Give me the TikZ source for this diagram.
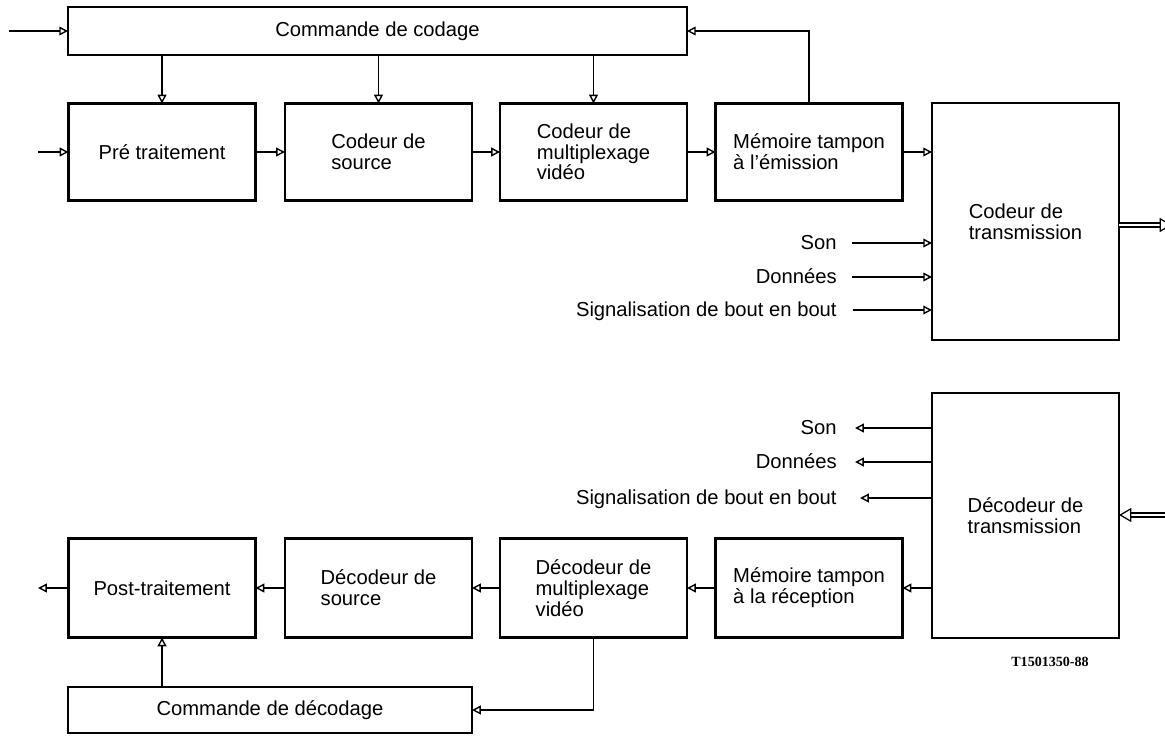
\documentclass[tikz,border=0pt]{standalone}
\usepackage{fontspec}
\setmainfont{Liberation Sans}
\newfontfamily\refont{Liberation Serif}
\usetikzlibrary{arrows.meta,positioning}

\begin{document}
\begin{tikzpicture}[x=0.02cm,y=-0.02cm,
  bloc/.style={draw,line width=1.2pt,inner sep=0pt,outer sep=0pt,align=left,
    minimum width=3.74cm,minimum height=1.94cm,font=\fontsize{11.5}{11.8}\selectfont},
  fleche/.style={line width=0.8pt,-{Triangle[open,length=5pt,width=5pt]}},
  liaison/.style={line width=0.7pt,double,double distance=1.6pt,-{Triangle[open,length=7pt,width=8pt]}},
  etiq/.style={font=\fontsize{11.5}{11.8}\selectfont,inner sep=0pt,text height=1.6ex,text depth=0.3ex,anchor=east}]

  \useasboundingbox (0,0) rectangle (1165,738);

  % codeur
  \node[bloc,minimum width=12.38cm,minimum height=0.96cm] (codage) at (377.5,31) {Commande de codage};
  \node[bloc] (pretrait) at (162,152) {Pré traitement};
  \node[bloc] (source) at (378.5,152) {Codeur de\\source};
  \node[bloc] (multiplex) at (593.5,152) {Codeur de\\multiplexage\\vidéo};
  \node[bloc] (tampon) at (809,152) {Mémoire tampon\\à l’émission};
  \node[bloc,minimum height=4.74cm] (transm) at (1025.5,221.5) {Codeur de\\transmission};

  \node[etiq] (son1) at (837,243) {Son};
  \node[etiq] (donnees1) at (837,277) {Données};
  \node[etiq] (signal1) at (837,310) {Signalisation de bout en bout};

  \coordinate (e1) at (9,31);
  \coordinate (e2) at (38,152);
  \coordinate (s1) at (1172,225);
  \coordinate (son1a) at (852,243);
  \coordinate (donnees1a) at (852,277);
  \coordinate (signal1a) at (853,310);

  \draw[fleche] (e1) -- (codage.west);
  \draw[fleche] (e2) -- (pretrait.west);
  \draw[fleche] (codage.south -| pretrait) -- (pretrait.north);
  \draw[fleche] (codage.south -| source) -- (source.north);
  \draw[fleche] (codage.south -| multiplex) -- (multiplex.north);
  \draw[fleche] (tampon.north) |- (codage.east);
  \path[fleche]
   (pretrait) edge (source)
   (source) edge (multiplex)
   (multiplex) edge (tampon)
   (tampon) edge (tampon -| transm.west);
  \draw[fleche] (son1a) -- (son1a -| transm.west);
  \draw[fleche] (donnees1a) -- (donnees1a -| transm.west);
  \draw[fleche] (signal1a) -- (signal1a -| transm.west);
  \draw[liaison] (s1 -| transm.east) -- (s1);

  % decodeur
  \node[bloc,minimum height=4.9cm] (dectrans) at (1025.5,515.5) {Décodeur de\\transmission};
  \node[bloc,minimum height=1.98cm] (tamponrec) at (809,588) {Mémoire tampon\\à la réception};
  \node[bloc,minimum height=1.98cm] (decmux) at (593.5,588) {Décodeur de\\multiplexage\\vidéo};
  \node[bloc,minimum height=1.98cm] (decsource) at (378.5,588) {Décodeur de\\source};
  \node[bloc,minimum height=1.98cm] (posttrait) at (162,588) {Post-traitement};
  \node[bloc,minimum width=8.08cm,minimum height=0.92cm] (decodage) at (270,710) {Commande de décodage};

  \node[etiq] (son2) at (837,428) {Son};
  \node[etiq] (donnees2) at (837,462) {Données};
  \node[etiq] (signal2) at (837,498) {Signalisation de bout en bout};

  \coordinate (e3) at (1175,515);
  \coordinate (s2) at (38,588);
  \coordinate (son2a) at (855,428);
  \coordinate (donnees2a) at (855,462);
  \coordinate (signal2a) at (860,498);

  \draw[liaison] (e3) -- (e3 -| dectrans.east);
  \draw[fleche] (son2a -| dectrans.west) -- (son2a);
  \draw[fleche] (donnees2a -| dectrans.west) -- (donnees2a);
  \draw[fleche] (signal2a -| dectrans.west) -- (signal2a);
  \path[fleche]
   (tamponrec -| dectrans.west) edge (tamponrec)
   (tamponrec) edge (decmux)
   (decmux) edge (decsource)
   (decsource) edge (posttrait);
  \draw[fleche] (posttrait.west) -- (s2);
  \draw[fleche] (decmux.south) |- (decodage.east);
  \draw[fleche] (decodage.north -| posttrait) -- (posttrait.south);

  \node[font=\refont\bfseries\fontsize{8}{9}\selectfont] (repere) at (1050,662) {T1501350-88};
\end{tikzpicture}
\end{document}
